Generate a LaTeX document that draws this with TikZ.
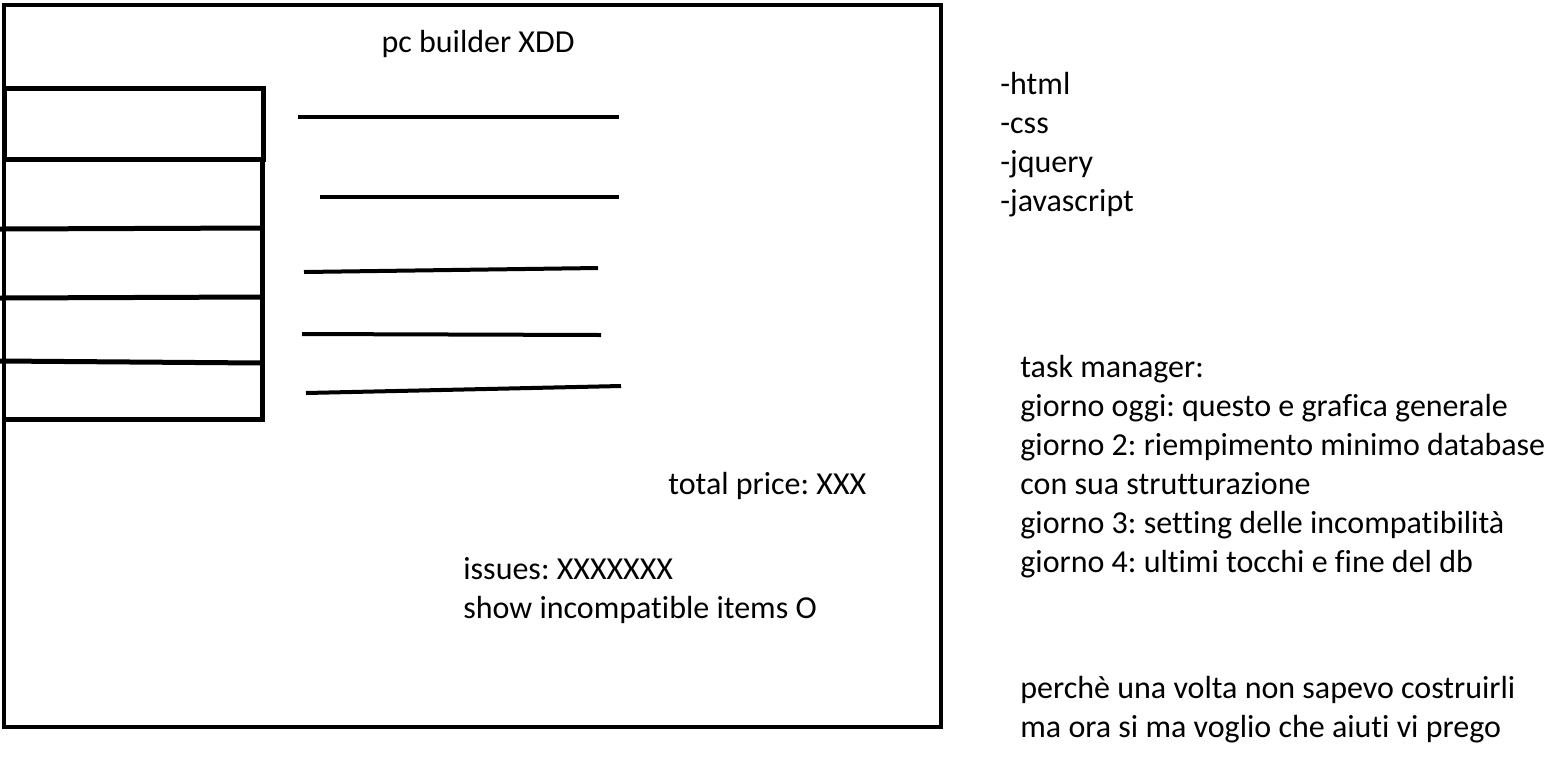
\documentclass[tikz,border=0pt]{standalone}
\usepackage{fontspec}
\setmainfont{Carlito}[Ligatures=NoCommon]
\frenchspacing
\usetikzlibrary{positioning}
\begin{document}
\begin{tikzpicture}[x=0.5pt, y=-0.5pt,
  every node/.style={inner sep=0pt, font=\fontsize{16}{19.5}\selectfont},
  sketch/.style={line width=2pt},
  slot/.style={line width=2.5pt},
  txt/.style={anchor=base west}]
\useasboundingbox (0,0) rectangle (1552,778);

% main window
\draw[sketch] (4,5) rectangle (941,727);
\node[anchor=base] (title) at (478,52) {pc builder XDD};

% component slots on the left
\draw[slot] (4,88) rectangle (263,159);
\draw[slot] (262,159) -- (262,419) -- (4,419);
\draw[slot] (0,229) -- (264,228);
\draw[slot] (0,298) -- (262,297);
\draw[slot] (0,361) -- (262,363);

% placeholder lines
\draw[sketch] (298,117) -- (619,117);
\draw[sketch] (320,197) -- (619,197);
\draw[sketch] (304,272) -- (598,268);
\draw[sketch] (302,334) -- (601,335);
\draw[sketch] (306,393) -- (621,386);

\node[txt] (price) at (668,494) {total price: XXX};
\node[txt] (issues) at (463,579) {issues: XXXXXXX};
\node[txt] (show) at (463,618) {show incompatible items O};

% notes on the right
\foreach \tech [count=\i from 0] in {-html,-css,-jquery,-javascript}
  \node[txt] (tech\i) at (1000,{94+39*\i}) {\tech};

\foreach \task [count=\i from 0] in {task manager:,
    giorno oggi: questo e grafica generale,
    giorno 2: riempimento minimo database,
    con sua strutturazione,
    giorno 3: setting delle incompatibilità,
    giorno 4: ultimi tocchi e fine del db}
  \node[txt] (task\i) at (1020,{377+39*\i}) {\task};

\node[txt] (why0) at (1020,698) {perchè una volta non sapevo costruirli};
\node[txt] (why1) at (1020,737) {ma ora si ma voglio che aiuti vi prego};
\end{tikzpicture}
\end{document}
